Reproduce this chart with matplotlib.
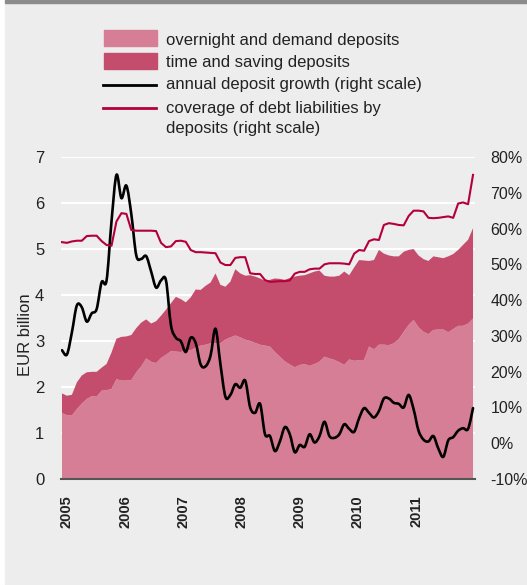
import numpy as np
import matplotlib
matplotlib.use("Agg")
import matplotlib.pyplot as plt
from matplotlib.patches import Rectangle, PathPatch
from matplotlib.lines import Line2D
from matplotlib.path import Path

plt.rcParams['font.family'] = ['Liberation Sans', 'DejaVu Sans']

# monthly data, Jan 2005 - Dec 2011
years = ['2005', '2006', '2007', '2008', '2009', '2010', '2011']

overnight = [1.43, 1.39, 1.38, 1.52, 1.64, 1.74, 1.80, 1.79, 1.92, 1.93, 1.96, 2.17,
             2.14, 2.14, 2.15, 2.32, 2.45, 2.62, 2.55, 2.52, 2.63, 2.70, 2.78, 2.77,
             2.76, 2.80, 2.80, 2.86, 2.90, 2.92, 2.95, 2.95, 2.95, 3.03, 3.08, 3.12,
             3.08, 3.03, 3.00, 2.96, 2.92, 2.90, 2.88, 2.76, 2.66, 2.56, 2.49, 2.43,
             2.48, 2.50, 2.46, 2.50, 2.55, 2.66, 2.62, 2.59, 2.54, 2.48, 2.60, 2.57,
             2.58, 2.59, 2.88, 2.82, 2.92, 2.92, 2.91, 2.95, 3.04, 3.20, 3.35, 3.46,
             3.30, 3.20, 3.15, 3.24, 3.25, 3.25, 3.19, 3.26, 3.33, 3.33, 3.38, 3.49]

time_saving = [0.43, 0.42, 0.45, 0.58, 0.61, 0.58, 0.53, 0.54, 0.50, 0.57, 0.79, 0.88,
               0.95, 0.96, 0.98, 0.96, 0.95, 0.85, 0.83, 0.91, 0.92, 0.98, 1.04, 1.19,
               1.15, 1.04, 1.15, 1.26, 1.21, 1.28, 1.32, 1.52, 1.27, 1.15, 1.21, 1.44,
               1.39, 1.39, 1.43, 1.44, 1.44, 1.41, 1.45, 1.60, 1.69, 1.77, 1.88, 1.97,
               1.94, 1.93, 2.01, 2.01, 1.98, 1.76, 1.78, 1.81, 1.88, 2.03, 1.83, 2.03,
               2.18, 2.16, 1.86, 1.94, 2.06, 1.98, 1.95, 1.89, 1.80, 1.74, 1.63, 1.54,
               1.56, 1.58, 1.59, 1.60, 1.57, 1.55, 1.65, 1.63, 1.65, 1.76, 1.82, 1.96]

growth = [26.0, 24.8, 31.0, 38.5, 38.0, 34.0, 36.3, 37.5, 45.0, 45.5, 62.0, 75.0,
          68.5, 72.0, 64.0, 52.5, 51.5, 52.3, 48.0, 43.5, 45.5, 45.5, 33.0, 29.5,
          28.5, 25.5, 29.5, 28.0, 22.0, 21.5, 24.5, 32.0, 22.0, 13.0, 13.5, 16.5,
          15.5, 17.5, 10.0, 8.5, 11.0, 2.5, 2.0, -2.2, 0.5, 4.5, 2.5, -2.5,
          -0.5, -1.0, 2.5, 0.2, 2.0, 6.0, 2.0, 1.5, 2.5, 5.3, 4.0, 3.2,
          7.0, 9.8, 8.5, 7.2, 9.0, 12.5, 12.5, 11.3, 11.0, 10.0, 13.5, 9.5,
          3.5, 1.0, 0.5, 2.0, -1.5, -3.8, 0.8, 1.7, 3.5, 4.2, 4.0, 9.8]

coverage = [56.2, 56.0, 56.4, 56.6, 56.6, 57.9, 58.0, 58.0, 56.5, 55.4, 55.2, 62.0,
            64.3, 64.1, 59.6, 59.4, 59.4, 59.4, 59.4, 59.3, 56.0, 54.8, 55.0, 56.5,
            56.6, 56.3, 54.0, 53.4, 53.4, 53.3, 53.2, 53.1, 50.5, 49.8, 49.8, 51.8,
            52.0, 52.0, 47.5, 47.3, 47.3, 45.6, 45.1, 45.2, 45.3, 45.3, 45.5, 47.4,
            47.9, 47.9, 48.6, 48.8, 48.8, 50.0, 50.3, 50.3, 50.3, 50.2, 50.0, 53.0,
            54.0, 53.8, 56.5, 57.0, 56.8, 61.0, 61.5, 61.3, 61.0, 60.9, 63.5, 65.0,
            65.0, 64.8, 63.0, 62.9, 63.0, 63.2, 63.4, 63.0, 67.0, 67.3, 66.8, 75.0]

LIGHT = '#d67e96'
DARK = '#c44d6e'
RED = '#b4003a'
BG = '#ecedec'
TXT = '#222222'
FS = 12

W, H = 527, 585
def fx(px):
    return px / W
def fy(py):
    return 1 - py / H


def smooth_path(x, y):
    # bezier curve through the monthly points (catmull-rom control points)
    pts = np.column_stack([x, y]).astype(float)
    n = len(pts)
    verts = [pts[0]]
    codes = [Path.MOVETO]
    for i in range(n - 1):
        p0 = pts[max(i - 1, 0)]
        p1 = pts[i]
        p2 = pts[i + 1]
        p3 = pts[min(i + 2, n - 1)]
        verts += [p1 + (p2 - p0) / 6, p2 - (p3 - p1) / 6, p2]
        codes += [Path.CURVE4] * 3
    return Path(verts, codes)


fig = plt.figure(figsize=(W / 100, H / 100), dpi=100, facecolor='white')
fig.patches.append(Rectangle((fx(5), fy(584)), 1 - fx(5), 581 / H,
                             transform=fig.transFigure, color=BG, zorder=-10))
fig.patches.append(Rectangle((fx(5), fy(3)), 1 - fx(5), 3 / H,
                             transform=fig.transFigure, color='#8c8c8c', zorder=-9))

months = np.arange(len(overnight))

ax = fig.add_axes([fx(61), fy(479), fx(475) - fx(61), (479 - 157) / H])
ax.set_facecolor('none')
ax.stackplot(months, overnight, time_saving, colors=[LIGHT, DARK], lw=0, zorder=2)
ax.set_xlim(-0.2, 83.4)
ax.set_ylim(0, 7)
ax.set_yticks(range(8))
ax.yaxis.grid(True, color='white', lw=1.5)
ax.set_axisbelow(True)
for s in ['top', 'right', 'left']:
    ax.spines[s].set_visible(False)
ax.spines['bottom'].set_color('#555555')
ax.spines['bottom'].set_linewidth(1.5)
ax.spines['bottom'].set_zorder(3)
ax.tick_params(axis='y', length=0, pad=12, labelsize=FS, labelcolor=TXT)
ax.set_xticks(1.0 + 11.75 * np.arange(len(years)))
ax.set_xticklabels(years, rotation=90, fontweight='bold', fontsize=10.5, color=TXT)
ax.tick_params(axis='x', length=0, pad=12)

ax2 = ax.twinx()
ax2.add_patch(PathPatch(smooth_path(months, growth), fill=False, edgecolor='black',
                        lw=1.9, joinstyle='round', capstyle='round'))
ax2.plot(months, coverage, color=RED, lw=1.5, solid_joinstyle='round')
ax2.set_xlim(-0.2, 83.4)
ax2.set_ylim(-10, 80)
ax2.set_yticks(range(-10, 81, 10))
ax2.set_yticklabels([f'{v}%' for v in range(-10, 81, 10)])
ax2.tick_params(axis='y', length=0, pad=11, labelsize=11.5, labelcolor=TXT)
for s in ax2.spines.values():
    s.set_visible(False)

fig.text(fx(26), fy(335), 'EUR billion', rotation=90, ha='center', va='center',
         fontsize=FS, color=TXT)

# legend drawn by hand
fig.patches.append(Rectangle((fx(104), fy(46)), fx(157) - fx(104), 16 / H,
                             transform=fig.transFigure, color=LIGHT))
fig.patches.append(Rectangle((fx(104), fy(69)), fx(157) - fx(104), 16 / H,
                             transform=fig.transFigure, color=DARK))
fig.add_artist(Line2D([fx(103), fx(156)], [fy(85), fy(85)], color='black', lw=2,
                      transform=fig.transFigure))
fig.add_artist(Line2D([fx(103), fx(156)], [fy(108), fy(108)], color=RED, lw=2,
                      transform=fig.transFigure))
labels = ['overnight and demand deposits', 'time and saving deposits',
          'annual deposit growth (right scale)', 'coverage of debt liabilities by',
          'deposits (right scale)']
for lab, py in zip(labels, [41, 62, 85, 108, 128]):
    fig.text(fx(166), fy(py), lab, ha='left', va='center', fontsize=FS, color=TXT)

fig.savefig('out.png', dpi=100, facecolor=fig.get_facecolor())
